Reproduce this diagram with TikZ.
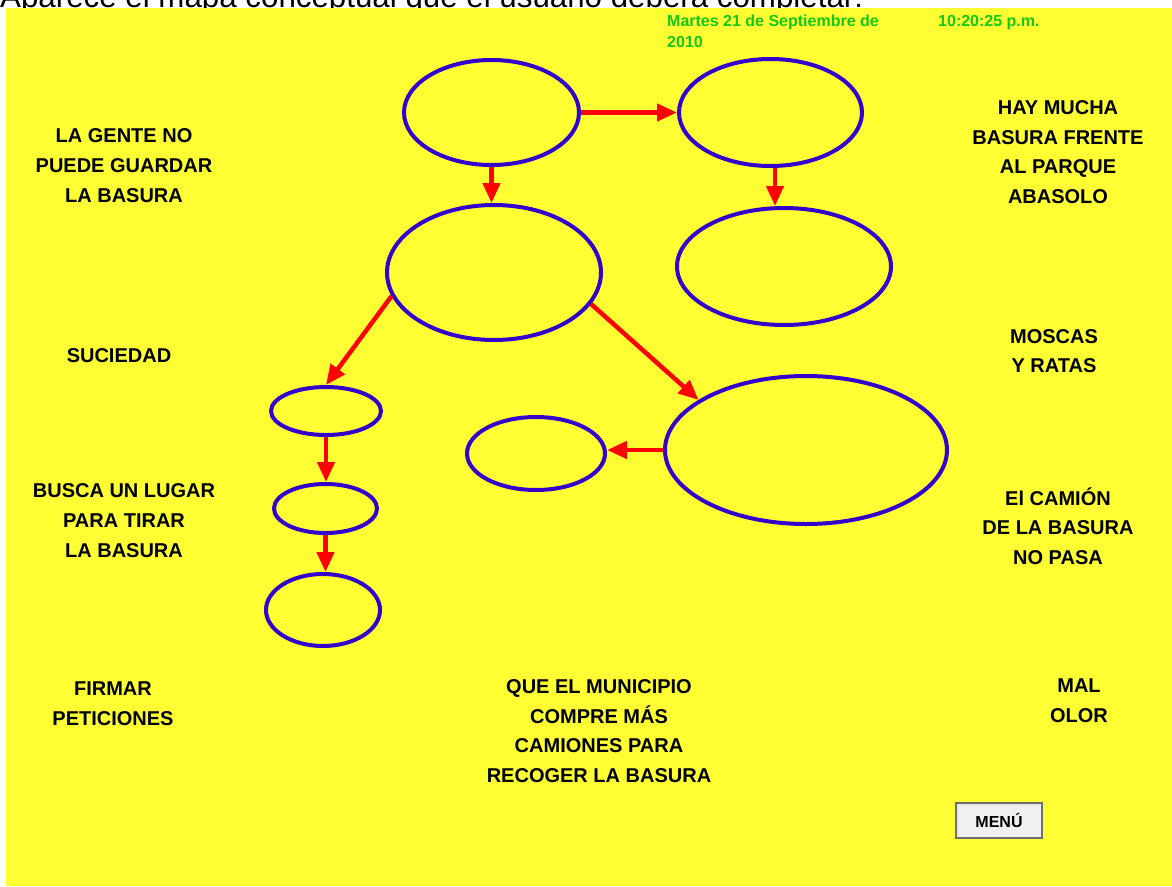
\documentclass[tikz,border=0pt]{standalone}
\usepackage{fontspec}
\setmainfont{Liberation Sans}
\usetikzlibrary{shapes.geometric,arrows.meta,calc}
\definecolor{bgyellow}{RGB}{255,255,51}
\definecolor{ellblue}{RGB}{51,0,204}
\definecolor{arrred}{RGB}{255,0,0}
\definecolor{hdrgreen}{RGB}{20,200,20}
\definecolor{btngray}{RGB}{240,240,240}
\definecolor{btnedge}{RGB}{110,110,110}
\begin{document}
\begin{tikzpicture}[x=1pt,y=-1pt,
  bubble/.style={draw=ellblue, line width=4pt, ellipse, inner sep=0pt},
  conn/.style={draw=arrred, line width=4.5pt, -{Triangle[length=20pt,width=17pt]}},
  concept/.style={font=\fontsize{20}{29.7}\selectfont\bfseries, align=center, inner sep=0pt, text=black},
  header/.style={inner sep=0pt, text=hdrgreen, font=\fontsize{16}{21}\selectfont\bfseries},
]
\useasboundingbox (0,0) rectangle (1172,886);
\fill[white] (0,0) rectangle (1172,886);
\node[anchor=base west, inner sep=0pt, font=\fontsize{31.3}{36}\selectfont] (title) at (0,7) {Aparece el mapa conceptual que el usuario deberá completar:};
\fill[bgyellow] (6,8) rectangle (1172,886);

% header
\node[header, anchor=north west, align=left] (date) at (667,15) {Martes 21 de Septiembre de\\2010};
\node[header, anchor=base west] (time) at (938,27) {10:20:25 p.m.};

% ellipses
\node[bubble, minimum width=175pt, minimum height=105pt] (e1) at (491.5,112.5) {};
\node[bubble, minimum width=183pt, minimum height=107pt] (e2) at (770.5,112.5) {};
\node[bubble, minimum width=214pt, minimum height=135pt] (e3) at (494,272.5) {};
\node[bubble, minimum width=214pt, minimum height=117pt] (e4) at (784,266.5) {};
\node[bubble, minimum width=110pt, minimum height=48pt] (e5) at (326,411) {};
\node[bubble, minimum width=103pt, minimum height=49pt] (e6) at (325.5,508.5) {};
\node[bubble, minimum width=114pt, minimum height=72pt] (e7) at (323,610) {};
\node[bubble, minimum width=138pt, minimum height=73pt] (e8) at (536,453.5) {};
\node[bubble, minimum width=282pt, minimum height=148pt] (e9) at (806,450) {};

% connectors
\draw[conn] (e1.east) -- (e2.west);
\draw[conn] (e1.south) -- (e1.south |- e3.north);
\draw[conn] ($(e2.south)+(4.5,0)$) -- ($(e2.south |- e4.north)+(4.5,0)$);
\draw[conn] (e3.193.5) -- (e5.north);
\draw[conn] (e3.-18) -- (e9.155);
\draw[conn] (e9.west) -- (e9.west -| e8.east);
\draw[conn] (e5.south) -- (e5.south |- e6.north);
\draw[conn] (e6.south) -- (e6.south |- e7.north);

% concept texts
\node[concept] (t1) at (124,165.5) {LA GENTE NO\\PUEDE GUARDAR\\LA BASURA};
\node[concept] (t2) at (1058,152) {HAY MUCHA\\BASURA FRENTE\\AL PARQUE\\ABASOLO};
\node[concept] (t3) at (119,356) {SUCIEDAD};
\node[concept] (t4) at (1054,351) {MOSCAS\\Y RATAS};
\node[concept] (t5) at (124,520.5) {BUSCA UN LUGAR\\PARA TIRAR\\LA BASURA};
\node[concept] (t6) at (1058,526) {El CAMIÓN\\DE LA BASURA\\NO PASA};
\node[concept] (t7) at (113,703.5) {FIRMAR\\PETICIONES};
\node[concept] (t8) at (599,731) {QUE EL MUNICIPIO\\COMPRE MÁS\\CAMIONES PARA\\RECOGER LA BASURA};
\node[concept] (t9) at (1079,700.5) {MAL\\OLOR};

% menu button
\node[draw=btnedge, fill=btngray, line width=2.5pt, minimum width=86pt, minimum height=35pt, inner sep=0pt,
      font=\fontsize{16}{19}\selectfont\bfseries] (menu) at (999,820.5) {MENÚ};
\draw[white!80!gray, line width=1.5pt] ($(menu.south west)+(3,-3)$) -- ($(menu.north west)+(3,3)$) -- ($(menu.north east)+(-3,3)$);
\end{tikzpicture}
\end{document}
